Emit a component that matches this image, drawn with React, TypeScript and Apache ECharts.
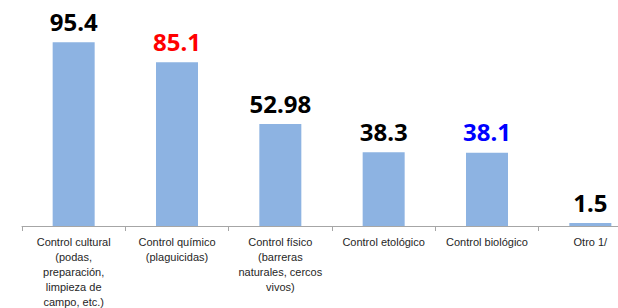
import React, { useEffect, useRef } from "react";
import * as echarts from "echarts";

const categories = [
  "Control cultural\n(podas,\npreparación,\nlimpieza de\ncampo, etc.)",
  "Control químico\n(plaguicidas)",
  "Control físico\n(barreras\nnaturales, cercos\nvivos)",
  "Control etológico",
  "Control biológico",
  "Otro 1/",
];
const values = [95.4, 85.1, 52.98, 38.3, 38.1, 1.5];
const labelColors = ["#000000", "#ff0000", "#000000", "#000000", "#0000ff", "#000000"];

export default function App() {
  const ref = useRef<HTMLDivElement>(null);
  useEffect(() => {
    const chart = echarts.init(ref.current!, null, { renderer: "svg" });
    chart.setOption({
      animation: false,
      grid: {
        left: 22,
        top: 33.5,
        right: -24,
        bottom: 82,
        containLabel: false,
        outerBoundsMode: "none",
      },
      xAxis: {
        type: "category",
        data: categories,
        axisLine: { lineStyle: { color: "#a6a6a6", width: 1 } },
        axisTick: { show: true, length: 5, lineStyle: { color: "#a6a6a6" } },
        axisLabel: {
          interval: 0,
          margin: 8,
          color: "#262626",
          fontFamily: "Liberation Sans, Arial, sans-serif",
          fontSize: 11,
          lineHeight: 15,
          align: "center",
        },
      },
      yAxis: {
        type: "value",
        min: 0,
        max: 100,
        show: false,
        splitLine: { show: false },
      },
      series: [
        {
          type: "bar",
          barWidth: 42,
          data: values.map((v, i) => ({
            value: v,
            label: { color: labelColors[i] },
          })),
          itemStyle: { color: "#8db3e2" },
          label: {
            show: true,
            position: "top",
            distance: 9,
            fontFamily: "Noto Sans, Open Sans, sans-serif",
            fontWeight: "bold",
            fontSize: 24,
          },
        },
      ],
    });
    return () => chart.dispose();
  }, []);
  return <div ref={ref} style={{ width: 618, height: 308, position: "absolute", left: 0, top: 0 }} />;
}
